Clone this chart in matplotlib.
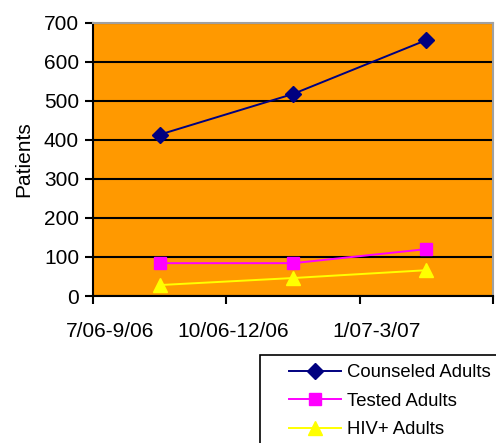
import matplotlib
matplotlib.use("Agg")
import matplotlib.pyplot as plt
from matplotlib.patches import Rectangle
import numpy as np

# quarters and patient counts
quarters = ["7/06-9/06", "10/06-12/06", "1/07-3/07"]
counseled = [413, 517, 655]
tested = [84, 84, 120]
hiv_pos = [28, 46, 66]

plt.rcParams["font.family"] = ["Liberation Sans", "DejaVu Sans"]


def main():
    fig = plt.figure(figsize=(4.96, 4.43), dpi=100)
    ax = fig.add_axes([93 / 496, 1 - 296 / 443, 400 / 496, 273.5 / 443])
    ax.set_facecolor("#FF9900")

    x = np.arange(len(quarters))
    ax.plot(x, counseled, color="#000080", lw=1.4, marker="D", ms=8,
            label="Counseled Adults")
    ax.plot(x, tested, color="#FF00FF", lw=1.4, marker="s", ms=9,
            label="Tested Adults")
    ax.plot(x, hiv_pos, color="#FFFF00", lw=1.4, marker="^", ms=10,
            label="HIV+ Adults")

    ax.set_xlim(-0.5, len(quarters) - 0.5)
    ax.set_ylim(0, 700)
    ax.set_yticks(range(0, 701, 100))
    ax.yaxis.grid(True, color="black", lw=1.5)
    ax.set_axisbelow(True)

    # boundary ticks without labels, category labels placed a bit off-centre
    ax.set_xticks(np.arange(-0.5, len(quarters), 1.0))
    ax.set_xticklabels([])
    ax.set_xticks([-0.37, 0.55, 1.63], minor=True)
    ax.set_xticklabels(quarters, minor=True)
    ax.tick_params(axis="x", which="minor", length=0, pad=19, labelsize=15)
    ax.tick_params(axis="x", which="major", length=6, width=1.5)
    ax.tick_params(axis="y", length=6, width=1.5, labelsize=15, pad=4)

    for s in ["left", "bottom"]:
        ax.spines[s].set_linewidth(1.5)
    for s in ["top", "right"]:
        ax.spines[s].set_color("#A0A0A0")
        ax.spines[s].set_linewidth(1.5)

    ax.set_ylabel("Patients", fontsize=15, labelpad=8)

    # legend box runs off the right and bottom edges of the image
    fig.patches.append(Rectangle((260 / 496, -0.1), 0.6, 1 - 355 / 443 + 0.1,
                                 transform=fig.transFigure, fill=False,
                                 edgecolor="black", lw=1.2))
    fig.legend(loc="upper left", bbox_to_anchor=(282 / 496, 1 - 357 / 443),
               fontsize=13.3, frameon=False,
               handlelength=2.8, handletextpad=0.3, borderpad=0.4,
               labelspacing=0.62, borderaxespad=0)

    fig.savefig("out.png", dpi=100)


if __name__ == "__main__":
    main()
